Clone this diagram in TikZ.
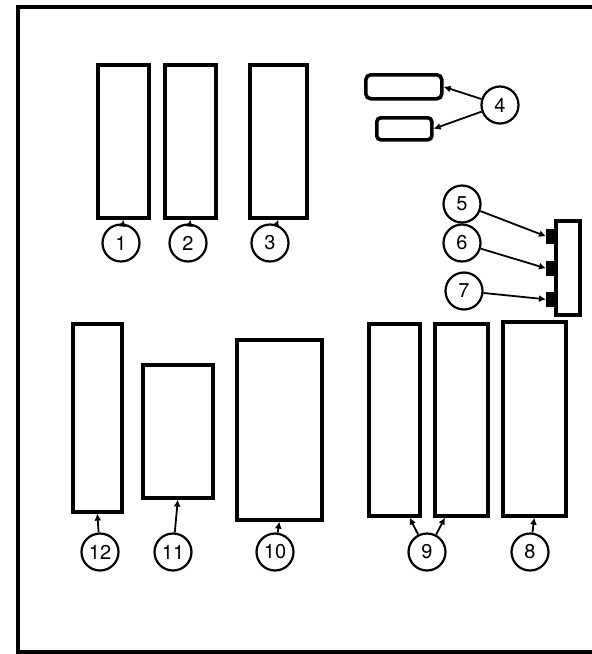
\documentclass[tikz,border=0pt]{standalone}
\usepackage{fontspec}
\setmainfont{TeX Gyre Heros}
\usetikzlibrary{arrows.meta}
\begin{document}
\begin{tikzpicture}[x=1pt,y=-1pt,
  part/.style={draw,line width=3.6pt,inner sep=0pt,anchor=north west},
  tag/.style={draw,circle,line width=2.2pt,minimum size=37pt,inner sep=0pt,font=\fontsize{20}{20}\selectfont},
  lead/.style={line width=1.8pt,-{Latex[length=7pt,width=7pt]}}]
\useasboundingbox (0,0) rectangle (592,654);
\draw[line width=3.6pt] (640,7) -- (18,7) -- (18,652) -- (640,652);
% top row
\node[part,minimum width=51pt,minimum height=153pt] (b1) at (96,63) {};
\node[part,minimum width=51pt,minimum height=153pt] (b2) at (163,63) {};
\node[part,minimum width=57pt,minimum height=153pt] (b3) at (248,63) {};
\node[tag] (c1) at (121,243) {1};
\node[tag] (c2) at (188,243) {2};
\node[tag] (c3) at (270,243) {3};
\draw[lead] (c1) -- (b1.south);
\draw[lead] (c2) -- (b2.south);
\draw[lead] (c3) -- (b3.south);
% item 4
\node[part,rounded corners=5pt,minimum width=76pt,minimum height=24pt] (b4a) at (364,73) {};
\node[part,rounded corners=4pt,minimum width=55pt,minimum height=22pt] (b4b) at (375,116) {};
\node[tag] (c4) at (500,105) {4};
\draw[lead] (c4) -- (b4a.east);
\draw[lead] (c4) -- (b4b.east);
% items 5-7
\node[part,minimum width=24pt,minimum height=94pt] (strip) at (554,219) {};
\node[part,minimum width=8pt,minimum height=11pt,fill=black] (t5) at (546,229) {};
\node[part,minimum width=8pt,minimum height=11pt,fill=black] (t6) at (546,261) {};
\node[part,minimum width=8pt,minimum height=11pt,fill=black] (t7) at (546,292) {};
\node[tag] (c5) at (462,204) {5};
\node[tag] (c6) at (462,243) {6};
\node[tag] (c7) at (464,291) {7};
\draw[lead] (c5) -- (t5.west);
\draw[lead] (c6) -- (t6.west);
\draw[lead] (c7) -- (t7.west);
% bottom row
\node[part,minimum width=49pt,minimum height=188pt] (b12) at (71,322) {};
\node[part,minimum width=70pt,minimum height=133pt] (b11) at (141,363) {};
\node[part,minimum width=85pt,minimum height=180pt] (b10) at (235,338) {};
\node[part,minimum width=51pt,minimum height=192pt] (b9a) at (367,322) {};
\node[part,minimum width=53pt,minimum height=192pt] (b9b) at (433,322) {};
\node[part,minimum width=63pt,minimum height=194pt] (b8) at (501,320) {};
\node[tag] (c12) at (100,552) {12};
\node[tag] (c11) at (173,552) {11};
\node[tag] (c10) at (275,552) {10};
\node[tag] (c9) at (427,552) {9};
\node[tag] (c8) at (530,552) {8};
\draw[lead] (c12) -- (b12.south);
\draw[lead] (c11) -- (b11.south);
\draw[lead] (c10) -- (b10.south);
\draw[lead] (c9) -- ([xshift=-12pt]b9a.south east);
\draw[lead] (c9) -- ([xshift=12pt]b9b.south west);
\draw[lead] (c8) -- (b8.south);
\end{tikzpicture}
\end{document}
